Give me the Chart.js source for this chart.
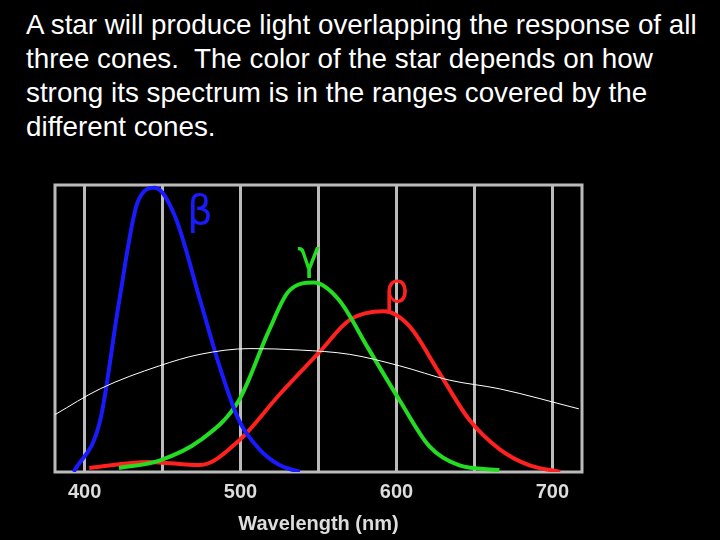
<!DOCTYPE html>
<html><head><style>
html,body{margin:0;padding:0;background:#000;width:720px;height:540px;overflow:hidden}
#t{position:absolute;left:26px;top:8px;width:692px;color:#fff;font-family:"Liberation Sans",Arial,sans-serif;font-size:27.8px;line-height:34px}
#c{position:absolute;left:0;top:0}
</style>
<script src="https://cdn.jsdelivr.net/npm/chart.js@4"></script></head>
<body>
<div id="t">A star will produce light overlapping the response of all three cones.&nbsp; The color of the star depends on how strong its spectrum is in the ranges covered by the different cones.</div>
<canvas id="c" width="720" height="540"></canvas>
<script>
const blue=[[393,0],[410,0.18],[422,0.59],[434,0.94],[445,0.99],[458,0.89],[474,0.60],[487,0.36],[499,0.18],[512,0.08],[525,0.024],[538,0]];
const green=[[422,0.014],[448,0.04],[474,0.11],[499,0.25],[518,0.49],[531,0.63],[547,0.66],[563,0.60],[582,0.43],[602,0.25],[621,0.09],[640,0.024],[666,0.007]];
const red=[[403,0.014],[441,0.035],[474,0.024],[499,0.11],[525,0.27],[551,0.42],[570,0.53],[592,0.56],[608,0.51],[627,0.35],[647,0.18],[666,0.08],[685,0.024],[705,0]];
const star=[[381,0.20],[410,0.29],[448,0.37],[474,0.41],[506,0.43],[538,0.425],[570,0.41],[602,0.37],[634,0.32],[666,0.29],[717,0.22]];
const tickVals=[400,450,500,550,600,650,700];
const labels=[["β",474,0.9,"#1a1aff"],["γ",544,0.745,"#22dd22"],["ρ",600,0.63,"#ff2020"]];
const toPts=a=>a.map(p=>({x:p[0],y:p[1]}));
const ds=(d,c,w)=>({data:toPts(d),borderColor:c,borderWidth:w,pointRadius:0,fill:false,cubicInterpolationMode:'monotone'});
const greek={id:'greek',afterDatasetsDraw(ch){const x=ch.scales.x,y=ch.scales.y,g=ch.ctx;g.save();g.font='40px "DejaVu Sans"';g.textAlign='center';g.textBaseline='middle';
for(const l of labels){g.fillStyle=l[3];g.fillText(l[0],x.getPixelForValue(l[1]),y.getPixelForValue(l[2]));}g.restore();}};
new Chart(document.getElementById('c'),{type:'line',
data:{datasets:[ds(star,'#fff',1),ds(blue,'#1a1aff',4),ds(green,'#22dd22',4),ds(red,'#ff2020',4)]},
options:{responsive:false,animation:false,events:[],
layout:{padding:{left:55,right:138,top:185,bottom:0}},
plugins:{legend:{display:false},tooltip:{enabled:false}},
scales:{
x:{type:'linear',min:381,max:719,afterFit:s=>{s.height=68},
afterBuildTicks:s=>{s.ticks=tickVals.map(v=>({value:v}))},
grid:{color:'#bbb',lineWidth:3,drawTicks:false},border:{display:false},
ticks:{padding:8,color:'#ddd',font:{family:'"Liberation Sans",Arial',size:20,weight:'bold'},callback:v=>v%100===0?v:''},
title:{display:true,text:'Wavelength (nm)',color:'#ddd',font:{family:'"Liberation Sans",Arial',size:20,weight:'bold'},padding:{top:0}}},
y:{min:0,max:1,display:false}
}},
plugins:[greek,{id:'frame',beforeDatasetsDraw(ch){const a=ch.chartArea,g=ch.ctx;g.save();g.strokeStyle='#bbb';g.lineWidth=3;g.strokeRect(a.left,a.top,a.right-a.left,a.bottom-a.top);g.restore();}}]
});
</script></body></html>
